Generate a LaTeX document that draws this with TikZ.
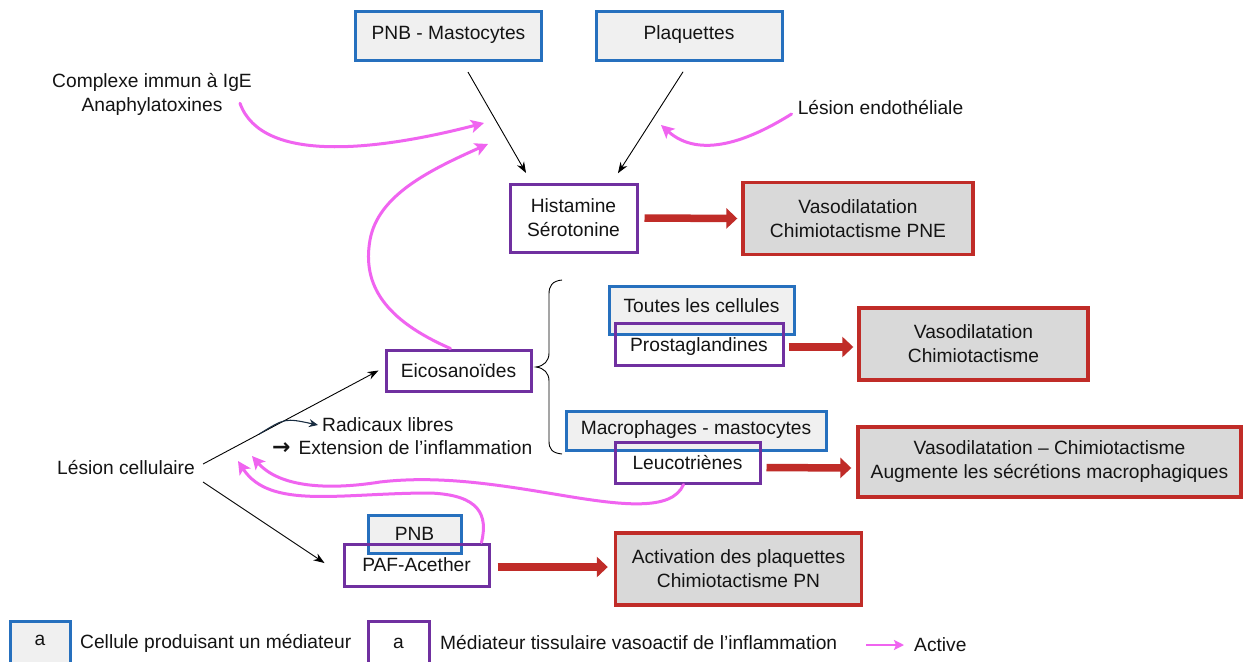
\documentclass[tikz,border=0pt]{standalone}
\usepackage{fontspec}
\setmainfont{Liberation Sans}
\newfontfamily\symf{DejaVu Sans}
\usetikzlibrary{arrows.meta}
\definecolor{cblue}{RGB}{38,112,190}
\definecolor{cpurple}{RGB}{112,48,160}
\definecolor{cred}{RGB}{192,44,40}
\definecolor{cpink}{RGB}{240,100,240}
\definecolor{clgray}{RGB}{240,240,240}
\definecolor{cdgray}{RGB}{217,217,217}
\definecolor{cnavy}{RGB}{25,45,65}
\definecolor{ctext}{RGB}{20,20,20}
\tikzset{
  cellbox/.style={draw=cblue, fill=clgray, line width=3pt, inner sep=0pt, text=ctext},
  medbox/.style={draw=cpurple, line width=3pt, inner sep=0pt, align=center, text=ctext},
  effbox/.style={draw=cred, fill=cdgray, line width=3.4pt, inner sep=0pt, align=center, text=ctext},
  lbl/.style={inner sep=2pt, align=center, text=ctext},
  blackarrow/.style={draw=black, line width=0.9pt, -{Stealth[length=11pt,width=8pt]}},
  pinkarrow/.style={draw=cpink, line width=3pt, line cap=round, -{Stealth[length=13pt,width=13pt,inset=3pt]}},
  redarrow/.style={draw=cred, line width=7.5pt, -{Triangle[length=11pt,width=20pt]}},
  radarrow/.style={draw=cnavy, line width=1.1pt, -{Stealth[length=9pt,width=8pt]}},
}
\begin{document}
\begin{tikzpicture}[x=1pt,y=-1pt,font=\fontsize{19.2}{24}\selectfont]
\useasboundingbox (0,0) rectangle (1244,661);
\fill[white] (0,0) rectangle (1244,661);

% top cell boxes
\node[cellbox, minimum width=186pt, minimum height=49pt, text depth=7pt] (pnbm) at (448.5,36.5) {PNB - Mastocytes};
\node[cellbox, minimum width=186pt, minimum height=49pt, text depth=7pt] (plaq) at (689,36.5) {Plaquettes};

% histamine
\node[medbox, fill=white, minimum width=127pt, minimum height=68pt] (hist) at (573.5,218) {Histamine\\Sérotonine};
\node[effbox, minimum width=230pt, minimum height=72pt] (vpne) at (858,218.5) {Vasodilatation\\Chimiotactisme PNE};

% free text labels
\node[lbl] (cim) at (152,94) {Complexe immun à IgE\\Anaphylatoxines};
\node[lbl] (le) at (880.5,108) {Lésion endothéliale};
\node[lbl] (lc) at (126,468) {Lésion cellulaire};

% eicosanoides
\node[medbox, minimum width=145pt, minimum height=41pt] (eico) at (458.5,370.5) {Eicosanoïdes};

% brace
\draw[black, line width=0.9pt] (562,280) .. controls (552,281) and (549,286) .. (549,294)
  -- (549,353) .. controls (549,361) and (544,366) .. (536,367)
  .. controls (544,368) and (549,373) .. (549,381)
  -- (549,441) .. controls (549,449) and (552,453) .. (562,454);

% prostaglandines
\node[cellbox, minimum width=185pt, minimum height=48pt, text depth=8pt] (toutes) at (701.5,310) {Toutes les cellules};
\node[medbox, minimum width=168pt, minimum height=42pt, text height=19pt, text depth=4pt] (prost) at (699,344) {Prostaglandines};
\node[effbox, minimum width=229pt, minimum height=72pt] (vas2) at (973.5,344) {Vasodilatation\\Chimiotactisme};

% leucotrienes
\node[cellbox, minimum width=260pt, minimum height=39pt, text depth=6pt] (macro) at (696,430.5) {Macrophages - mastocytes};
\node[medbox, minimum width=145pt, minimum height=41pt, text height=17pt, text depth=4pt] (leuco) at (687.5,462.5) {Leucotriènes};
\node[effbox, minimum width=383pt, minimum height=70pt] (vas3) at (1049.5,462) {Vasodilatation – Chimiotactisme\\Augmente les sécrétions macrophagiques};

% PAF
\node[cellbox, minimum width=93pt, minimum height=38pt] (pnb) at (414.5,534) {PNB};
\node[medbox, minimum width=145pt, minimum height=42pt, text height=17pt, text depth=4pt] (paf) at (416.5,565) {PAF-Acether};
\node[effbox, minimum width=246pt, minimum height=72pt] (act) at (738.5,569) {Activation des plaquettes\\Chimiotactisme PN};

% radicaux / extension
\node[lbl, anchor=west] (rad) at (320,425) {Radicaux libres};
\node[lbl, anchor=west] (ext) at (270,448) {{\symf\bfseries\fontsize{22}{24}\selectfont →}\hspace{8pt}Extension de l’inflammation};

% free ends of the pink arrows
\coordinate (hin1) at (484,123);
\coordinate (hin2) at (488,144);
\coordinate (hin3) at (661,125);
\coordinate (lin1) at (252,456);
\coordinate (lin2) at (238,461);

% black arrows
\draw[blackarrow, shorten <=11pt, shorten >=11pt] ([xshift=14pt]pnbm.south) -- ([xshift=-42pt]hist.north);
\draw[blackarrow, shorten <=11pt, shorten >=11pt] (plaq.south) -- ([xshift=38.5pt]hist.north);
\draw[blackarrow] ([shift={(6,-4)}]lc.east) -- node[pos=0.32, coordinate] (rstart) {} ([xshift=-6pt]eico.west);
\draw[blackarrow] ([shift={(6,14)}]lc.east) -- ([shift={(-18,-2)}]paf.west);
\draw[radarrow] (rstart) .. controls (285,418) .. ([xshift=-2pt]rad.west);

% red arrows
\draw[redarrow] ([xshift=6pt]hist.east) -- ([xshift=-4pt]vpne.west);
\draw[redarrow] ([shift={(4,3)}]prost.east) -- ([shift={(-4,3)}]vas2.west);
\draw[redarrow] ([shift={(5,5)}]leuco.east) -- ([shift={(-5,6)}]vas3.west);
\draw[redarrow] ([shift={(7,2)}]paf.east) -- ([shift={(-6,-2)}]act.west);

% pink arrows
\draw[pinkarrow] ([shift={(-14,-14)}]cim.south east) .. controls (262,165) and (380,150) .. (hin1);
\draw[pinkarrow] ([xshift=-8pt]eico.north) .. controls (385,320) and (362,285) .. (370,240)
  .. controls (378,195) and (430,170) .. (hin2);
\draw[pinkarrow] ([shift={(-4,6)}]le.west) .. controls (750,140) and (700,160) .. (hin3);
\draw[pinkarrow] ([xshift=-4pt]leuco.south) .. controls (672,512) and (620,505) .. (560,495)
  .. controls (500,485) and (440,475) .. (380,482)
  .. controls (330,490) and (280,488) .. (lin1);
\draw[pinkarrow] ([xshift=-9pt]paf.north east) .. controls (488,515) and (480,495) .. (430,493)
  .. controls (340,493) and (270,510) .. (lin2);

% legend
\node[cellbox, minimum width=60pt, minimum height=44pt, text depth=6pt] (lg1) at (40,643) {a};
\node[lbl, anchor=west] (lg1t) at (78,643) {Cellule produisant un médiateur};
\node[medbox, minimum width=61pt, minimum height=44pt] (lg2) at (398.5,643) {a};
\node[lbl, anchor=west] (lg2t) at (438,643) {Médiateur tissulaire vasoactif de l’inflammation};
\node[lbl, anchor=west] (actv) at (912,645) {Active};
\draw[draw=cpink, line width=2.5pt, -{Stealth[length=10pt,width=10pt,inset=2pt]}] ([xshift=-46pt]actv.west) -- ([xshift=-8pt]actv.west);
\end{tikzpicture}
\end{document}
